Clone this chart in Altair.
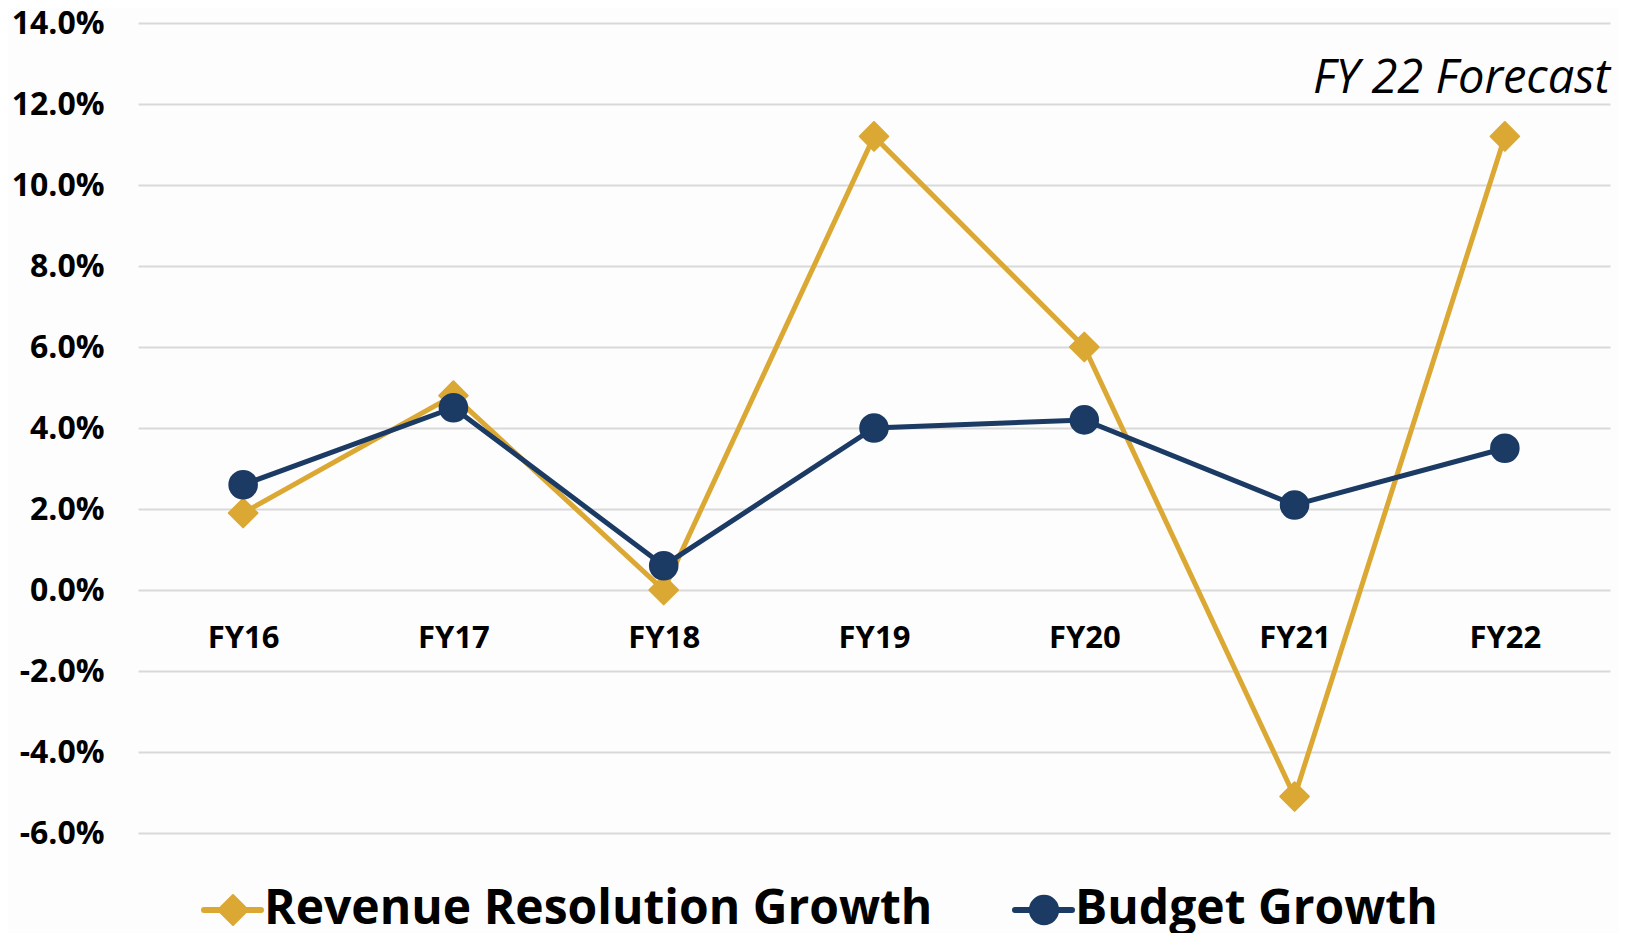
import altair as alt
import pandas as pd

# ---- data ----
FY = ["FY16", "FY17", "FY18", "FY19", "FY20", "FY21", "FY22"]
REVENUE = [1.9, 4.8, 0.0, 11.2, 6.0, -5.1, 11.2]
BUDGET = [2.6, 4.5, 0.6, 4.0, 4.2, 2.1, 3.5]
SERIES = ["Revenue Resolution Growth", "Budget Growth"]
Y_TICKS = [-6, -4, -2, 0, 2, 4, 6, 8, 10, 12, 14]
ANNOTATION = ["FY 22 Forecast"]

# ---- styling / layout ----
GOLD = "#DCA834"
NAVY = "#1B3A64"
COLORS = [GOLD, NAVY]
SHAPES = ["diamond", "circle"]
SIZES = [820, 760]
FONT = "Open Sans"
W, H = 1472, 810
Y_MIN, Y_MAX = -6, 14

x_enc = alt.X(
    "fy:N",
    sort=FY,
    scale=alt.Scale(type="point", domain=FY, padding=0.5),
    axis=alt.Axis(
        title=None, orient="bottom", offset=-H * (0 - Y_MIN) / (Y_MAX - Y_MIN),
        domain=False, ticks=False, grid=False, labelAngle=0,
        labelPadding=33, labelFontSize=31, labelFont=FONT,
        labelFontWeight="bold", labelColor="#000000",
    ),
)
y_enc = alt.Y(
    "value:Q",
    scale=alt.Scale(domain=[Y_MIN, Y_MAX], nice=False, zero=False),
    axis=alt.Axis(
        title=None, values=Y_TICKS,
        labelExpr="(datum.value < 0 ? '-' : '') + format(abs(datum.value), '.1f') + '%'",
        domain=False, ticks=False, grid=True,
        gridColor="#D9D9D9", gridWidth=2,
        labelPadding=34, labelFontSize=32, labelFont=FONT,
        labelFontWeight="bold", labelColor="#000000",
    ),
)

layers = []
for name, vals, col, shp, sz in zip(SERIES, [REVENUE, BUDGET], COLORS, SHAPES, SIZES):
    df = pd.DataFrame({"fy": FY, "value": vals, "series": name})
    base = alt.Chart(df).encode(x=x_enc, y=y_enc)
    layers.append(base.mark_line(color=col, strokeWidth=5))
    layers.append(
        base.mark_point(
            shape=shp, size=sz, filled=True, fill=col, stroke=col,
            strokeWidth=2, strokeJoin="round", opacity=1,
        )
    )

# annotation
ann = alt.Chart(pd.DataFrame({"t": ANNOTATION})).mark_text(
    font=FONT, fontStyle="italic", fontSize=47, align="right",
    baseline="alphabetic", color="#000000",
).encode(x=alt.value(W), y=alt.value(70), text="t:N")
layers.append(ann)

# manual legend (line + marker + label)
LEG_Y = 887
LEG_X0 = [66, 877]
for name, col, shp, sz, x0 in zip(SERIES, COLORS, SHAPES, [900, 800], LEG_X0):
    one = pd.DataFrame({"label": [name]})
    c = alt.Chart(one)
    layers.append(
        c.mark_rule(color=col, strokeWidth=6, strokeCap="round").encode(
            x=alt.value(x0), x2=alt.value(x0 + 57), y=alt.value(LEG_Y)
        )
    )
    layers.append(
        c.mark_point(
            shape=shp, size=sz, filled=True, fill=col, stroke=col,
            strokeWidth=2, strokeJoin="round", opacity=1,
        ).encode(x=alt.value(x0 + 29), y=alt.value(LEG_Y))
    )
    layers.append(
        c.mark_text(
            font=FONT, fontWeight="bold", fontSize=48, align="left",
            baseline="middle", color="#000000",
        ).encode(x=alt.value(x0 + 60), y=alt.value(LEG_Y), text="label:N")
    )

chart = (
    alt.layer(*layers)
    .properties(
        width=W, height=H,
        padding={"left": 130, "top": 15, "right": 9, "bottom": 100},
        autosize=alt.AutoSizeParams(type="none"),
        background="#FDFDFD",
    )
    .configure_view(stroke=None)
)

chart.save("out.html", embed_options={"renderer": "svg", "actions": False})
